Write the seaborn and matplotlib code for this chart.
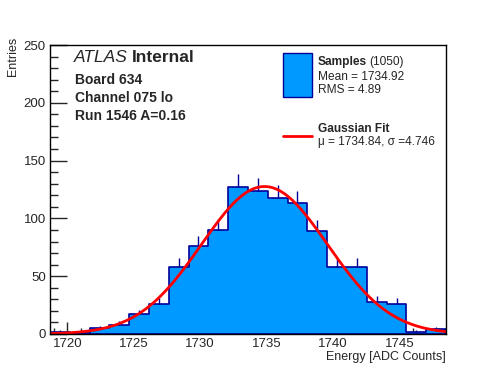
import numpy as np
import pandas as pd
import matplotlib
matplotlib.use("Agg")
import matplotlib.pyplot as plt
from matplotlib.ticker import MultipleLocator
import seaborn as sns

# histogram of ADC samples (20 bins)
x_min, x_max = 1718.7, 1748.5
counts = [2, 1, 5, 8, 17, 26, 58, 76, 90, 127,
          124, 118, 113, 89, 58, 58, 28, 26, 2, 4]

# gaussian fit parameters
fit_amp = 127.6
fit_mu = 1734.84
fit_sigma = 4.746

n_entries = 1050
sample_mean = 1734.92
sample_rms = 4.89

board_lines = ["Board 634", "Channel 075 lo", "Run 1546 A=0.16"]


def px(x, y):
    # figure coordinates from pixel positions
    return x / 496, 1 - y / 372


def main():
    sns.set_style("ticks")
    plt.rcParams["font.family"] = ["Liberation Sans", "DejaVu Sans"]

    fill_col = "#0099ff"
    edge_col = "#000099"

    fig = plt.figure(figsize=(4.96, 3.72), dpi=100)
    ax = fig.add_axes([50 / 496, 1 - 334 / 372, 396 / 496, 289 / 372])

    edges = np.linspace(x_min, x_max, len(counts) + 1)
    centers = 0.5 * (edges[:-1] + edges[1:])
    df = pd.DataFrame({"energy": centers, "n": np.array(counts, dtype=float)})

    sns.histplot(data=df, x="energy", weights="n", bins=list(edges),
                 element="step", fill=True, facecolor=fill_col,
                 edgecolor=edge_col, alpha=1, linewidth=1.2, ax=ax)
    # upper half of the error bars
    ax.vlines(df["energy"], df["n"], df["n"] + np.sqrt(df["n"]),
              color=edge_col, linewidth=1.0)

    xs = np.linspace(x_min, x_max, 400)
    ys = fit_amp * np.exp(-0.5 * ((xs - fit_mu) / fit_sigma) ** 2)
    sns.lineplot(x=xs, y=ys, color="red", linewidth=2, ax=ax)

    ax.set_xlim(x_min, x_max)
    ax.set_ylim(0, 250)
    ax.xaxis.set_major_locator(MultipleLocator(5))
    ax.xaxis.set_minor_locator(MultipleLocator(1))
    ax.yaxis.set_major_locator(MultipleLocator(50))
    ax.yaxis.set_minor_locator(MultipleLocator(10))
    ax.tick_params(which="both", direction="in", width=1, labelsize=9.5)
    ax.tick_params(axis="x", which="major", length=9, pad=3)
    ax.tick_params(axis="x", which="minor", length=4.5)
    ax.tick_params(axis="y", which="major", length=12, pad=3)
    ax.tick_params(axis="y", which="minor", length=6)
    for s in ax.spines.values():
        s.set_linewidth(1)
        s.set_color("black")
    ax.set_xlabel("")
    ax.set_ylabel("")

    fig.text(*px(446, 357), "Energy [ADC Counts]", ha="right", va="center",
             fontsize=9)
    fig.text(*px(13, 37), "Entries", ha="center", va="top", rotation=90,
             fontsize=9)

    # ATLAS label
    t = fig.text(*px(74, 58), "ATLAS", style="italic", fontsize=12.5,
                 va="center", ha="left")
    fig.canvas.draw()
    bb = t.get_window_extent()
    fig.text(bb.x1 / 496 + 4 / 496, 1 - 58 / 372, "Internal", weight="bold",
             fontsize=12.5, va="center", ha="left")
    for i, line in enumerate(board_lines):
        fig.text(*px(75, 80 + i * 18), line, weight="bold", fontsize=10,
                 va="center", ha="left")

    # legend
    ax_l = fig.add_axes([0, 0, 1, 1], facecolor="none")
    ax_l.set_xlim(0, 496)
    ax_l.set_ylim(372, 0)
    ax_l.axis("off")
    ax_l.add_patch(plt.Rectangle((283, 53), 29, 44, facecolor=fill_col,
                                 edgecolor=edge_col, linewidth=1))
    ax_l.plot([283, 312], [136, 136], color="red", linewidth=2)
    fs = 8.6
    s = ax_l.text(318, 62, "Samples", weight="bold", fontsize=fs,
                  va="center", ha="left")
    fig.canvas.draw()
    bb = s.get_window_extent()
    ax_l.text(318 + bb.width + 2, 62, f"({n_entries})", fontsize=fs,
              va="center", ha="left")
    ax_l.text(318, 77, f"Mean = {sample_mean:.2f}", fontsize=fs,
              va="center", ha="left")
    ax_l.text(318, 90, f"RMS = {sample_rms:.2f}", fontsize=fs,
              va="center", ha="left")
    ax_l.text(318, 129, "Gaussian Fit", weight="bold", fontsize=fs,
              va="center", ha="left")
    ax_l.text(318, 142, f"\u03bc = {fit_mu:.2f}, \u03c3 ={fit_sigma:.3f}",
              fontsize=fs, va="center", ha="left")

    fig.savefig("out.png", dpi=100)


if __name__ == "__main__":
    main()
